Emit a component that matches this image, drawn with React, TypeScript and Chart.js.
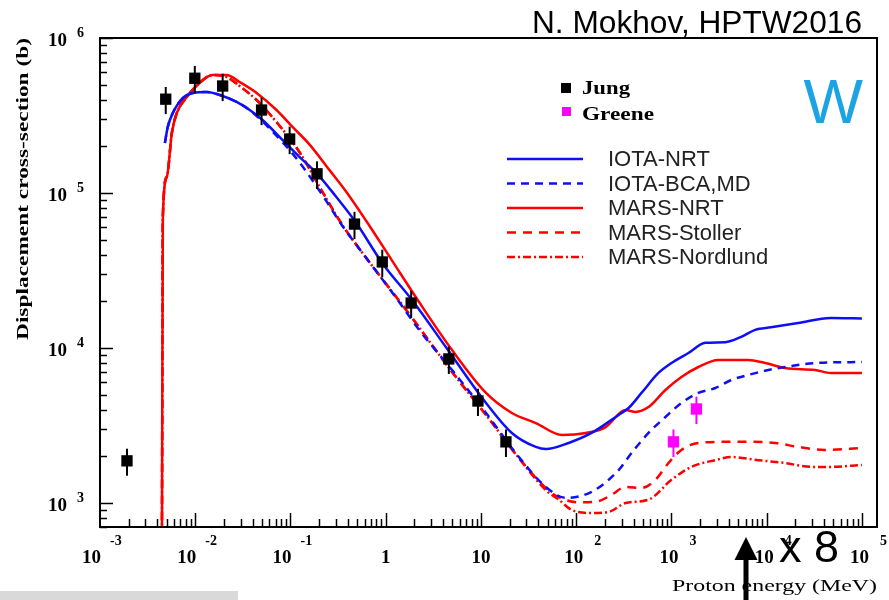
import React, { useEffect, useRef } from 'react';
import { Chart, registerables } from 'chart.js';

Chart.register(...registerables);

// ---------- axis ranges ----------
const X_MIN = 1e-3;
const X_MAX = 1.44e5;
const Y_MIN = 700;
const Y_MAX = 1e6;

// ---------- measured points ----------
const jungE = [1.92e-3, 4.9e-3, 9.9e-3, 0.0194, 0.0497, 0.098, 0.19, 0.47, 0.92, 1.85, 4.6, 9.3, 18.3];
const jungS = [1.87e3, 4.03e5, 5.5e5, 4.9e5, 3.43e5, 2.23e5, 1.33e5, 6.3e4, 3.59e4, 1.95e4, 8.5e3, 4.55e3, 2.48e3];
const jungErr = [370, 8.0e4, 1.1e5, 9.8e4, 6.9e4, 4.5e4, 2.7e4, 1.26e4, 7.2e3, 3.9e3, 1.7e3, 910, 500];

const greeneE = [1050, 1830];
const greeneS = [2.48e3, 4.04e3];
const greeneErr = [500, 810];

// ---------- calculations ----------
const iotaNrtE = [4.8e-3, 5.15e-3, 5.81e-3, 7.39e-3, 9.42e-3, 0.0132, 0.0181, 0.0272, 0.0373, 0.0509, 0.0824, 0.124, 0.187, 0.303, 0.491, 0.918, 1.89, 4.3, 11.3, 21.1, 37.7, 48.0, 83.4, 145, 279, 355, 485, 731, 1000, 1507, 2270, 3675, 5405, 7580, 1.11e4, 2.14e4, 4.73e4, 1e5];
const iotaNrtS = [2.1e5, 2.67e5, 3.28e5, 4.1e5, 4.42e5, 4.48e5, 4.29e5, 3.87e5, 3.43e5, 2.96e5, 2.2e5, 1.71e5, 1.35e5, 9.42e4, 6.4e4, 3.54e4, 2.04e4, 1.01e4, 4.42e3, 2.83e3, 2.3e3, 2.23e3, 2.44e3, 2.83e3, 3.7e3, 4.1e3, 5.13e3, 6.9e3, 8.0e3, 9.29e3, 1.08e4, 1.09e4, 1.18e4, 1.31e4, 1.36e4, 1.45e4, 1.56e4, 1.55e4];

const iotaBcaE = [4.8e-3, 5.15e-3, 5.81e-3, 7.39e-3, 9.42e-3, 0.0132, 0.0181, 0.0272, 0.0373, 0.0824, 0.124, 0.216, 0.351, 0.625, 1.29, 2.24, 4.97, 11.3, 25.0, 48.0, 77.6, 145, 279, 381, 574, 865, 1273, 1918, 2890, 4250, 6397, 1.04e4, 1.56e4, 3.22e4, 1e5];
const iotaBcaS = [2.1e5, 2.67e5, 3.28e5, 4.1e5, 4.42e5, 4.48e5, 4.29e5, 3.87e5, 3.43e5, 2.13e5, 1.58e5, 9.71e4, 6.13e4, 3.81e4, 2.1e4, 1.31e4, 7.21e3, 3.81e3, 1.98e3, 1.27e3, 1.08e3, 1.18e3, 1.63e3, 2.1e3, 2.83e3, 3.59e3, 4.42e3, 5.13e3, 5.52e3, 6.22e3, 6.7e3, 7.21e3, 7.54e3, 8.0e3, 8.12e3];

const marsNrtE = [4.46e-3, 4.57e-3, 5.03e-3, 5.68e-3, 6.4e-3, 8.15e-3, 0.0111, 0.0152, 0.0214, 0.0292, 0.0441, 0.0713, 0.105, 0.158, 0.256, 0.385, 0.625, 1.17, 2.24, 4.97, 11.3, 21.1, 37.7, 70.5, 126, 204, 330, 420, 574, 865, 1273, 1918, 3105, 6397, 9640, 1.56e4, 3.22e4, 4.73e4, 1e5];
const marsNrtS = [300, 7.0e4, 1.27e5, 2.44e5, 3.28e5, 4.16e5, 5.13e5, 5.77e5, 5.77e5, 5.2e5, 4.42e5, 3.43e5, 2.67e5, 2.06e5, 1.41e5, 1.02e5, 6.6e4, 3.65e4, 1.98e4, 9.7e3, 5.13e3, 3.81e3, 3.28e3, 2.75e3, 2.83e3, 3.09e3, 3.98e3, 3.87e3, 4.16e3, 5.36e3, 6.5e3, 7.54e3, 8.37e3, 8.37e3, 8.0e3, 7.43e3, 7.21e3, 6.9e3, 6.9e3];

const marsStollerE = [4.46e-3, 4.57e-3, 5.03e-3, 5.68e-3, 6.4e-3, 8.15e-3, 0.0111, 0.0152, 0.0214, 0.0292, 0.0441, 0.0713, 0.124, 0.216, 0.351, 0.625, 1.01, 1.64, 2.65, 4.97, 11.3, 25.0, 48.0, 65.6, 106, 172, 235, 330, 485, 679, 931, 1273, 1918, 3675, 6397, 1.23e4, 2.14e4, 4.1e4, 1e5];
const marsStollerS = [300, 7.0e4, 1.27e5, 2.44e5, 3.28e5, 4.16e5, 5.13e5, 5.77e5, 5.6e5, 4.9e5, 3.98e5, 2.87e5, 1.84e5, 1.02e5, 6.21e4, 3.81e4, 2.59e4, 1.76e4, 1.18e4, 7.0e3, 3.7e3, 1.95e3, 1.25e3, 1.09e3, 1.01e3, 1.03e3, 1.13e3, 1.27e3, 1.25e3, 1.41e3, 1.81e3, 2.2e3, 2.44e3, 2.48e3, 2.48e3, 2.44e3, 2.3e3, 2.2e3, 2.26e3];

const marsNordlundE = [4.46e-3, 4.57e-3, 5.03e-3, 5.68e-3, 6.4e-3, 8.15e-3, 0.0111, 0.0152, 0.0214, 0.0292, 0.0441, 0.0713, 0.124, 0.216, 0.351, 0.625, 1.01, 1.64, 2.65, 4.97, 11.3, 25.0, 48.0, 65.6, 89.7, 145, 219, 330, 574, 1000, 1619, 2890, 4250, 8150, 1.56e4, 2.92e4, 4.73e4, 1e5];
const marsNordlundS = [300, 7.0e4, 1.27e5, 2.44e5, 3.28e5, 4.16e5, 5.13e5, 5.77e5, 5.6e5, 4.9e5, 3.98e5, 2.87e5, 1.84e5, 1.02e5, 6.21e4, 3.81e4, 2.59e4, 1.76e4, 1.18e4, 7.0e3, 3.7e3, 1.95e3, 1.21e3, 1.05e3, 902, 861, 875, 1.0e3, 1.05e3, 1.41e3, 1.71e3, 1.89e3, 1.98e3, 1.89e3, 1.81e3, 1.71e3, 1.71e3, 1.76e3];

// ---------- ticks ----------
const xMajorExps = [-3, -2, -1, 0, 1, 2, 3, 4, 5];
const yMajorExps = [3, 4, 5, 6];
const minorMult = [2, 3, 4, 5, 6, 7, 8, 9];

// ---------- texts ----------
const titleText = 'N. Mokhov, HPTW2016';
const elementText = 'W';
const factorText = 'x 8';
const xTitle = 'Proton energy (MeV)';
const yTitle = 'Displacement cross-section (b)';
const markerLegend = [
  { label: 'Jung', color: '#000000' },
  { label: 'Greene', color: '#ff00ff' },
];

const BLUE = 'rgb(15,15,245)';
const RED = 'rgb(255,0,0)';

const lineSeries = [
  { label: 'IOTA-NRT', E: iotaNrtE, S: iotaNrtS, color: BLUE, dash: [] as number[] },
  { label: 'IOTA-BCA,MD', E: iotaBcaE, S: iotaBcaS, color: BLUE, dash: [8, 6] },
  { label: 'MARS-NRT', E: marsNrtE, S: marsNrtS, color: RED, dash: [] as number[] },
  { label: 'MARS-Stoller', E: marsStollerE, S: marsStollerS, color: RED, dash: [9, 7] },
  { label: 'MARS-Nordlund', E: marsNordlundE, S: marsNordlundS, color: RED, dash: [8, 3, 2, 3] },
];

const toPts = (xs: number[], ys: number[]) => xs.map((x, i) => ({ x, y: ys[i] }));

function scaledText(ctx: CanvasRenderingContext2D, text: string, x: number, y: number, font: string, width: number, align: 'left' | 'center' | 'right') {
  ctx.save();
  ctx.font = font;
  const w = ctx.measureText(text).width;
  const k = width / w;
  ctx.translate(x, y);
  ctx.scale(k, 1);
  ctx.textAlign = align;
  ctx.fillText(text, 0, 0);
  ctx.restore();
}

const decorPlugin = {
  id: 'decor',
  afterDatasetsDraw(chart: any) {
    const ctx: CanvasRenderingContext2D = chart.ctx;
    const xs = chart.scales.x;
    const ys = chart.scales.y;
    ctx.save();
    ctx.lineWidth = 2;
    const bars = [
      { E: jungE, S: jungS, err: jungErr, color: '#000' },
      { E: greeneE, S: greeneS, err: greeneErr, color: '#ff00ff' },
    ];
    bars.forEach((b) => {
      ctx.strokeStyle = b.color;
      b.E.forEach((e, i) => {
        const px = xs.getPixelForValue(e);
        ctx.beginPath();
        ctx.moveTo(px, ys.getPixelForValue(b.S[i] + b.err[i]));
        ctx.lineTo(px, ys.getPixelForValue(b.S[i] - b.err[i]));
        ctx.stroke();
      });
    });
    ctx.restore();
  },
  afterDraw(chart: any) {
    const ctx: CanvasRenderingContext2D = chart.ctx;
    const xs = chart.scales.x;
    const ys = chart.scales.y;
    const ca = chart.chartArea;
    ctx.save();
    // frame
    ctx.strokeStyle = '#000';
    ctx.lineWidth = 2;
    ctx.strokeRect(ca.left, ca.top, ca.right - ca.left, ca.bottom - ca.top);

    // x ticks
    ctx.lineWidth = 1.5;
    xMajorExps.forEach((p) => {
      const v = Math.pow(10, p);
      const px = Math.round(xs.getPixelForValue(v)) + 0.5;
      if (p > -3) {
        ctx.beginPath(); ctx.moveTo(px, ca.bottom); ctx.lineTo(px, ca.bottom - 14); ctx.stroke();
      }
      minorMult.forEach((m) => {
        const mv = m * v;
        if (mv > X_MAX) return;
        const mx = Math.round(xs.getPixelForValue(mv)) + 0.5;
        ctx.beginPath(); ctx.moveTo(mx, ca.bottom); ctx.lineTo(mx, ca.bottom - 8); ctx.stroke();
      });
    });
    // y ticks
    [2, 3, 4, 5].forEach((p) => {
      const v = Math.pow(10, p);
      minorMult.forEach((m) => {
        const mv = m * v;
        if (mv < Y_MIN || mv > Y_MAX) return;
        const my = Math.round(ys.getPixelForValue(mv)) + 0.5;
        ctx.beginPath(); ctx.moveTo(ca.left, my); ctx.lineTo(ca.left + 7, my); ctx.stroke();
      });
    });
    yMajorExps.forEach((p) => {
      const my = Math.round(ys.getPixelForValue(Math.pow(10, p))) + 0.5;
      ctx.beginPath(); ctx.moveTo(ca.left, my); ctx.lineTo(ca.left + 13, my); ctx.stroke();
    });

    // tick labels
    ctx.fillStyle = '#000';
    const baseFont = "bold 19px 'Liberation Serif'";
    const expFont = "bold 14px 'Liberation Serif'";
    xMajorExps.forEach((p) => {
      const px = xs.getPixelForValue(Math.pow(10, p));
      ctx.textBaseline = 'alphabetic';
      if (p === 0 || p === 1) {
        ctx.font = baseFont;
        ctx.textAlign = 'center';
        ctx.fillText(p === 0 ? '1' : '10', px, 563);
        return;
      }
      const right = px + (p < 0 ? 1 : 7);
      ctx.font = baseFont;
      ctx.textAlign = 'right';
      ctx.fillText('10', right, 563);
      ctx.font = expFont;
      ctx.textAlign = 'left';
      ctx.fillText(String(p), right + (p < 0 ? 9 : 11), 545);
    });
    yMajorExps.forEach((p) => {
      const py = ys.getPixelForValue(Math.pow(10, p));
      ctx.font = baseFont;
      ctx.textAlign = 'right';
      ctx.fillText('10', 67, py + 8);
      ctx.font = expFont;
      ctx.textAlign = 'left';
      ctx.fillText(String(p), 77, py - 1);
    });

    // axis titles
    ctx.save();
    ctx.translate(24, 189);
    ctx.rotate(-Math.PI / 2);
    ctx.textBaseline = 'middle';
    scaledText(ctx, yTitle, 0, 0, "bold 17px 'Liberation Serif'", 302, 'center');
    ctx.restore();
    ctx.textBaseline = 'alphabetic';
    scaledText(ctx, xTitle, 877, 591, "17px 'Liberation Serif'", 205, 'right');

    // marker legend
    ctx.fillStyle = '#000';
    ctx.fillRect(561, 83, 10, 10);
    ctx.fillStyle = '#ff00ff';
    ctx.fillRect(562, 107, 9, 9);
    ctx.fillStyle = '#000';
    scaledText(ctx, markerLegend[0].label, 582, 94, "bold 18px 'Liberation Serif'", 48, 'left');
    scaledText(ctx, markerLegend[1].label, 582, 120, "bold 18px 'Liberation Serif'", 72, 'left');

    // line legend
    lineSeries.forEach((s, i) => {
      const y = 159 + i * 24.5;
      ctx.strokeStyle = s.color;
      ctx.lineWidth = 2.5;
      ctx.setLineDash(s.dash);
      ctx.beginPath(); ctx.moveTo(507, y); ctx.lineTo(583, y); ctx.stroke();
      ctx.setLineDash([]);
      ctx.fillStyle = '#222';
      ctx.font = "22px 'Liberation Sans'";
      ctx.textAlign = 'left';
      ctx.fillText(s.label, 608, y + 7);
    });

    // title & annotations
    ctx.fillStyle = '#000';
    scaledText(ctx, titleText, 862, 33, "31px 'Liberation Sans'", 330, 'right');

    ctx.fillStyle = '#1ca3e4';
    ctx.font = "63px 'Liberation Sans'";
    ctx.textAlign = 'right';
    ctx.fillText(elementText, 863, 123);

    ctx.fillStyle = '#000';
    ctx.font = "45px 'Liberation Sans'";
    ctx.textAlign = 'left';
    ctx.fillText(factorText, 779, 562);

    // arrow
    ctx.fillStyle = '#000';
    ctx.fillRect(743.5, 556, 5, 44);
    ctx.beginPath();
    ctx.moveTo(746, 537);
    ctx.lineTo(734.5, 560);
    ctx.lineTo(757.5, 560);
    ctx.closePath();
    ctx.fill();

    // grey strip
    ctx.fillStyle = '#d9d9d9';
    ctx.fillRect(0, 591, 238, 9);
    ctx.restore();
  },
};

export default function App() {
  const ref = useRef<HTMLCanvasElement | null>(null);
  useEffect(() => {
    if (!ref.current) return;
    const datasets: any[] = [
      {
        label: 'Jung',
        data: toPts(jungE, jungS),
        showLine: false,
        pointStyle: 'rect',
        pointRadius: 8,
        pointBackgroundColor: '#000',
        pointBorderWidth: 0,
        borderColor: '#000',
      },
      {
        label: 'Greene',
        data: toPts(greeneE, greeneS),
        showLine: false,
        pointStyle: 'rect',
        pointRadius: 8,
        pointBackgroundColor: '#ff00ff',
        pointBorderWidth: 0,
        borderColor: '#ff00ff',
      },
      ...lineSeries.map((s) => ({
        label: s.label,
        data: toPts(s.E, s.S),
        borderColor: s.color,
        borderWidth: 2.5,
        borderDash: s.dash,
        pointRadius: 0,
        fill: false,
        cubicInterpolationMode: 'monotone',
      })),
    ];
    const chart = new Chart(ref.current, {
      type: 'line',
      data: { datasets },
      options: {
        responsive: false,
        animation: false,
        devicePixelRatio: 1,
        layout: { padding: { left: 100, right: 12, top: 38, bottom: 73 } },
        plugins: { legend: { display: false }, tooltip: { enabled: false }, title: { display: false } },
        scales: {
          x: { type: 'logarithmic', min: X_MIN, max: X_MAX, display: false },
          y: { type: 'logarithmic', min: Y_MIN, max: Y_MAX, display: false },
        },
      },
      plugins: [decorPlugin],
    });
    return () => chart.destroy();
  }, []);
  return (
    <div style={{ position: 'fixed', left: 0, top: 0, width: 889, height: 600, background: '#fff' }}>
      <canvas ref={ref} width={889} height={600} style={{ display: 'block' }} />
    </div>
  );
}
